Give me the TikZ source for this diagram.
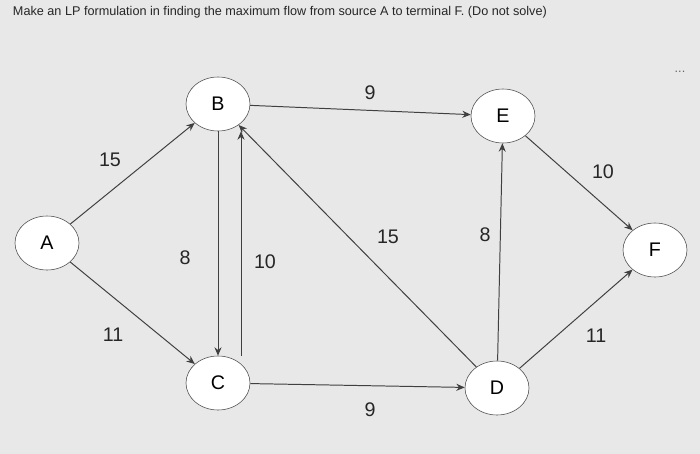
\documentclass[tikz,border=0pt]{standalone}
\usepackage{fontspec}
\setmainfont{Liberation Sans}
\usetikzlibrary{arrows.meta,shapes.geometric}
\begin{document}
\begin{tikzpicture}[x=0.025cm,y=-0.025cm,
  nd/.style={ellipse,draw=black!70,fill=white,minimum width=64*0.025cm,minimum height=54*0.025cm,font=\fontsize{14}{16}\selectfont,inner sep=0pt},
  ed/.style={draw=black!75,line width=0.7pt,-{Stealth[length=6pt,width=5pt]}},
  lb/.style={font=\fontsize{14}{16}\selectfont,text=black!85}]
\fill[black!9] (0,0) rectangle (700,454);
\useasboundingbox (0,0) rectangle (700,454);
\node[anchor=west,font=\fontsize{9}{10}\selectfont,text=black!85] (t) at (8,12) {Make an LP formulation in finding the maximum flow from source A to terminal F. (Do not solve)};
\node[font=\fontsize{9}{10}\selectfont,text=black!60] (dots) at (680,72) {...};
\node[nd] (A) at (47,243) {A};
\node[nd] (B) at (218,104) {B};
\node[nd] (C) at (218,383) {C};
\node[nd] (E) at (503,116) {E};
\node[nd] (D) at (497,388) {D};
\node[nd] (F) at (655,250) {F};
\draw[ed] (A) -- (B);
\draw[ed] (A) -- (C);
\draw[ed] (B) -- (E);
\draw[ed] (B.south) -- (C.north);
\draw[ed] ([xshift=23*0.025cm]C.north) -- ([xshift=23*0.025cm]B.south);
\draw[ed] (D) -- (B);
\draw[ed] (C) -- (D);
\draw[ed] (D) -- (E);
\draw[ed] (E) -- (F);
\draw[ed] (D) -- (F);
\node[lb] (l1) at (110,160) {15};
\node[lb] (l2) at (113,335) {11};
\node[lb] (l3) at (370,93) {9};
\node[lb] (l4) at (185,258) {8};
\node[lb] (l5) at (265,262) {10};
\node[lb] (l6) at (388,237) {15};
\node[lb] (l7) at (370,410) {9};
\node[lb] (l8) at (485,235) {8};
\node[lb] (l9) at (603,172) {10};
\node[lb] (l10) at (596,336) {11};
\end{tikzpicture}
\end{document}
